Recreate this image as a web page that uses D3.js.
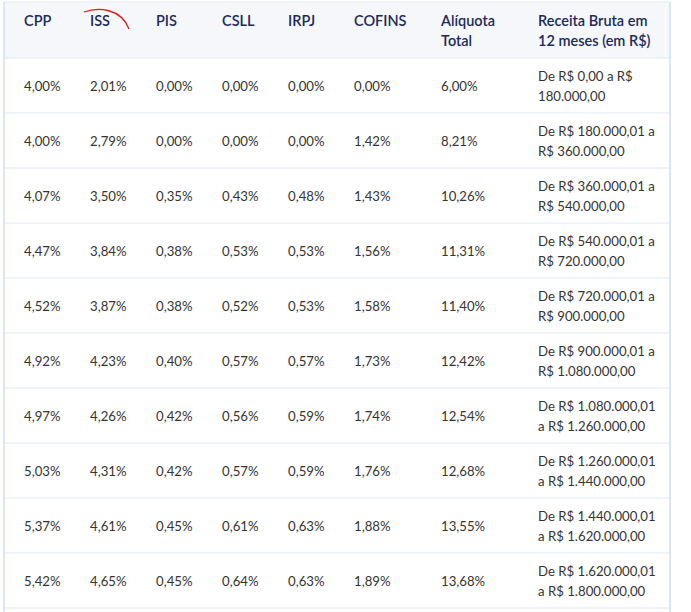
<!DOCTYPE html>
<html><head><meta charset="utf-8">
<script src="https://cdn.jsdelivr.net/npm/d3@7"></script>
<style>body{margin:0;background:#fff;font-family:Lato,sans-serif;}</style>
</head><body><div id="table"></div>
<script>
const headers = [['CPP'], ['ISS'], ['PIS'], ['CSLL'], ['IRPJ'], ['COFINS'], ['Alíquota', 'Total'], ['Receita Bruta em', '12 meses (em R$)']];
const cpp = ['4,00%', '4,00%', '4,07%', '4,47%', '4,52%', '4,92%', '4,97%', '5,03%', '5,37%', '5,42%'];
const iss = ['2,01%', '2,79%', '3,50%', '3,84%', '3,87%', '4,23%', '4,26%', '4,31%', '4,61%', '4,65%'];
const pis = ['0,00%', '0,00%', '0,35%', '0,38%', '0,38%', '0,40%', '0,42%', '0,42%', '0,45%', '0,45%'];
const csll = ['0,00%', '0,00%', '0,43%', '0,53%', '0,52%', '0,57%', '0,56%', '0,57%', '0,61%', '0,64%'];
const irpj = ['0,00%', '0,00%', '0,48%', '0,53%', '0,53%', '0,57%', '0,59%', '0,59%', '0,63%', '0,63%'];
const cofins = ['0,00%', '1,42%', '1,43%', '1,56%', '1,58%', '1,73%', '1,74%', '1,76%', '1,88%', '1,89%'];
const total = ['6,00%', '8,21%', '10,26%', '11,31%', '11,40%', '12,42%', '12,54%', '12,68%', '13,55%', '13,68%'];
const receita = [
  ['De R$ 0,00 a R$', '180.000,00'],
  ['De R$ 180.000,01 a', 'R$ 360.000,00'],
  ['De R$ 360.000,01 a', 'R$ 540.000,00'],
  ['De R$ 540.000,01 a', 'R$ 720.000,00'],
  ['De R$ 720.000,01 a', 'R$ 900.000,00'],
  ['De R$ 900.000,01 a', 'R$ 1.080.000,00'],
  ['De R$ 1.080.000,01', 'a R$ 1.260.000,00'],
  ['De R$ 1.260.000,01', 'a R$ 1.440.000,00'],
  ['De R$ 1.440.000,01', 'a R$ 1.620.000,00'],
  ['De R$ 1.620.000,01', 'a R$ 1.800.000,00']
];
const colX = [24, 90, 156, 222, 288, 354, 441, 538];

const width = 691, height = 612;
const left = 4, right = 670, headTop = 2, headH = 56, rowH = 55;
const rows = cpp.map((d, i) => [[d], [iss[i]], [pis[i]], [csll[i]], [irpj[i]], [cofins[i]], [total[i]], receita[i]]);

const svg = d3.select('#table').append('svg').attr('width', width).attr('height', height);

const y = d3.scaleLinear().domain([0, 1]).range([headTop + headH, headTop + headH + rowH]);

svg.append('rect').attr('x', left).attr('y', headTop).attr('width', right - left)
  .attr('height', headH).attr('fill', '#f5f7fa');

// horizontal rules
svg.selectAll('.rule').data(d3.range(0, rows.length + 1)).enter().append('line')
  .attr('x1', left).attr('x2', right).attr('y1', (d) => y(d)).attr('y2', (d) => y(d))
  .attr('stroke', '#dfe8f2').attr('stroke-width', 1);
svg.append('line').attr('x1', left).attr('x2', right).attr('y1', headTop).attr('y2', headTop)
  .attr('stroke', '#e3ebf4');
[left, right].forEach((x) => {
  svg.append('line').attr('x1', x).attr('x2', x).attr('y1', headTop).attr('y2', height)
    .attr('stroke', '#dbe6f2').attr('stroke-width', 2);
});

const drawCell = (g, lines, x, cy, color, weight, size) => {
  const t = g.append('text').attr('x', x).attr('fill', color).attr('font-weight', weight)
    .attr('font-size', size);
  const off = lines.length === 1 ? [0] : [-10, 10];
  lines.forEach((l, k) => {
    t.append('tspan').attr('x', x).attr('y', cy + off[k]).attr('dy', '0.35em').text(l);
  });
};

const head = svg.append('g');
headers.forEach((h, j) => drawCell(head, h, colX[j], h.length === 1 ? 21 : 31, '#1b2a5a', 600, 14.5));

const body = svg.append('g');
rows.forEach((r, i) => {
  const cy = (y(i) + y(i + 1)) / 2 + 1;
  r.forEach((c, j) => drawCell(body, c, colX[j], cy, '#333', 400, 13.2));
});

// red hand-drawn mark near ISS
svg.append('path').attr('d', 'M84,12 C98,7 121,8 129,29').attr('fill', 'none')
  .attr('stroke', '#e8191a').attr('stroke-width', 1.3);
</script></body></html>
